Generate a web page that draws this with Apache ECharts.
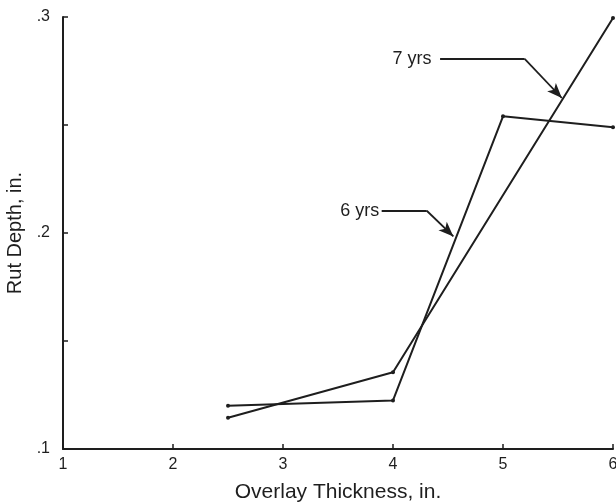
<!DOCTYPE html>
<html>
<head>
<meta charset="utf-8">
<script src="https://cdn.jsdelivr.net/npm/echarts@6/dist/echarts.min.js"></script>
<style>
html,body{margin:0;padding:0;background:#fff;}
#chart{width:616px;height:504px;}
</style>
</head>
<body>
<div id="chart"></div>
<script>
// Data
const xTicks = [1, 2, 3, 4, 5, 6];
const yTickValues = [0.1, 0.2, 0.3];
const yTickLabels = ['.1', '.2', '.3'];

const x6yrs = [2.5, 4, 5, 6];
const y6yrs = [0.1200, 0.1225, 0.2540, 0.2490];

const x7yrs = [2.5, 4, 6];
const y7yrs = [0.1145, 0.1355, 0.2995];

// Callout leader lines (data coordinates)
const call7x = [4.428, 5.197, 5.535];
const call7y = [0.2806, 0.2806, 0.2625];
const call6x = [3.897, 4.307, 4.549];
const call6y = [0.2103, 0.2103, 0.1984];
const callLabels = ['7 yrs', '6 yrs'];

const ink = '#1e1e1e';
const font = "'Liberation Sans', Arial, Helvetica, sans-serif";

function pairs(xs, ys) { return xs.map((x, i) => [x, ys[i]]); }

function callout(xs, ys) {
  return [
    [{ coord: [xs[0], ys[0]], symbol: 'none' }, { coord: [xs[1], ys[1]], symbol: 'none' }],
    [{ coord: [xs[1], ys[1]], symbol: 'none' }, { coord: [xs[2], ys[2]], symbol: 'arrow', symbolSize: [9, 15] }]
  ];
}

const chart = echarts.init(document.getElementById('chart'), null, { renderer: 'canvas' });

chart.setOption({
  animation: false,
  backgroundColor: '#ffffff',
  grid: { left: 63, right: 3, top: 17, bottom: 55, containLabel: false, outerBoundsMode: 'none' },
  xAxis: {
    type: 'value',
    min: xTicks[0],
    max: xTicks[xTicks.length - 1],
    interval: 1,
    name: 'Overlay Thickness, in.',
    nameLocation: 'middle',
    nameGap: 33,
    nameTextStyle: { fontFamily: font, fontSize: 21, color: ink },
    axisLine: { show: true, lineStyle: { color: ink, width: 2 } },
    axisTick: { show: true, inside: true, length: 5, lineStyle: { color: ink, width: 1.5 } },
    axisLabel: { fontFamily: font, fontSize: 16, color: ink, margin: 8,
      formatter: v => xTicks.indexOf(v) >= 0 ? String(v) : '' },
    splitLine: { show: false }
  },
  yAxis: {
    type: 'value',
    min: 0.1,
    max: 0.3,
    interval: 0.05,
    name: 'Rut Depth, in.',
    nameLocation: 'middle',
    nameGap: 34,
    nameRotate: 90,
    nameTextStyle: { fontFamily: font, fontSize: 20, color: ink },
    axisLine: { show: true, lineStyle: { color: ink, width: 2 } },
    axisTick: { show: true, inside: true, length: 5, lineStyle: { color: ink, width: 1.5 } },
    axisLabel: { fontFamily: font, fontSize: 16, color: ink, margin: 13,
      formatter: v => {
        for (let i = 0; i < yTickValues.length; i++) {
          if (Math.abs(v - yTickValues[i]) < 1e-9) return yTickLabels[i];
        }
        return '';
      } },
    splitLine: { show: false }
  },
  series: [
    {
      name: '6 yrs',
      type: 'line',
      data: pairs(x6yrs, y6yrs),
      symbol: 'circle',
      symbolSize: 4,
      itemStyle: { color: ink },
      lineStyle: { color: ink, width: 2 },
      markLine: {
        silent: true,
        symbol: ['none', 'none'],
        lineStyle: { color: ink, width: 1.8, type: 'solid' },
        label: { show: false },
        data: callout(call6x, call6y)
      },
      markPoint: {
        silent: true,
        symbol: 'circle',
        symbolSize: 1,
        itemStyle: { color: 'rgba(0,0,0,0)' },
        data: [{ coord: [call6x[0], call6y[0]],
          label: { show: true, position: 'left', distance: 2, formatter: callLabels[1],
            fontFamily: font, fontSize: 18, color: ink } }]
      }
    },
    {
      name: '7 yrs',
      type: 'line',
      data: pairs(x7yrs, y7yrs),
      symbol: 'circle',
      symbolSize: 4,
      itemStyle: { color: ink },
      lineStyle: { color: ink, width: 2 },
      markLine: {
        silent: true,
        symbol: ['none', 'none'],
        lineStyle: { color: ink, width: 1.8, type: 'solid' },
        label: { show: false },
        data: callout(call7x, call7y)
      },
      markPoint: {
        silent: true,
        symbol: 'circle',
        symbolSize: 1,
        itemStyle: { color: 'rgba(0,0,0,0)' },
        data: [{ coord: [call7x[0], call7y[0]],
          label: { show: true, position: 'left', distance: 8, formatter: callLabels[0],
            fontFamily: font, fontSize: 18, color: ink } }]
      }
    }
  ]
});
</script>
</body>
</html>
